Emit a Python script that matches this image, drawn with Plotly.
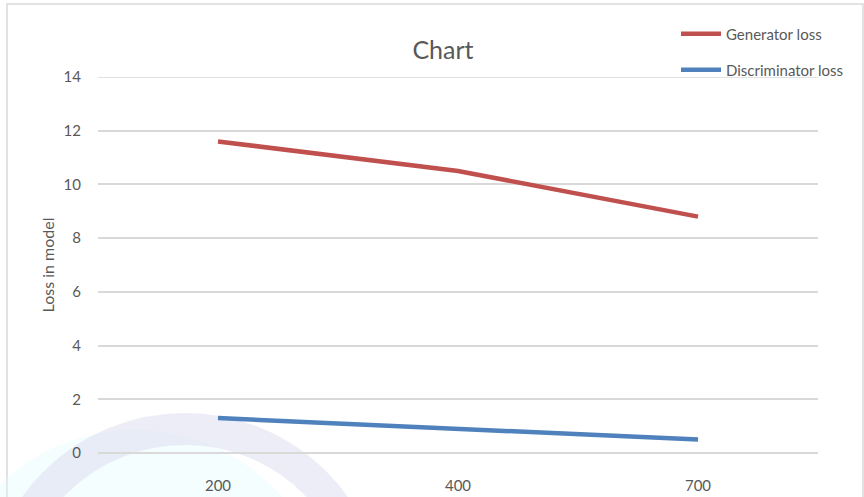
import plotly.graph_objects as go

# Training steps and the losses recorded at each
steps = ["200", "400", "700"]
generator_loss = [11.6, 10.5, 8.8]
discriminator_loss = [1.3, 0.9, 0.5]
y_top = 14

W, H = 864, 497
L, R, T, B = 98, 46, 77, 44
TEXT = "#595959"
GRID = "#d9d9d9"
FONT = "Lato, 'Open Sans', sans-serif"


def px_x(px):
    return (px - L) / (W - L - R)


def px_y(py):
    return (H - B - py) / (H - T - B)


fig = go.Figure()
fig.add_trace(go.Scatter(
    x=steps, y=generator_loss, name="Generator loss", mode="lines",
    line=dict(color="#c0504d", width=4.5), legend="legend",
))
fig.add_trace(go.Scatter(
    x=steps, y=discriminator_loss, name="Discriminator loss", mode="lines",
    line=dict(color="#4f81bd", width=4.5), legend="legend2",
))

shapes = [
    # chart frame
    dict(type="rect", xref="paper", yref="paper",
         x0=px_x(7), x1=px_x(863), y0=px_y(540), y1=px_y(4),
         line=dict(color=GRID, width=1.5), fillcolor="rgba(0,0,0,0)",
         layer="below"),
    # faint background emblem
    dict(type="circle", xref="paper", yref="paper",
         x0=px_x(-60), x1=px_x(330), y0=px_y(820), y1=px_y(430),
         line=dict(width=0), fillcolor="rgba(225,252,253,0.35)", layer="below"),
    dict(type="circle", xref="paper", yref="paper",
         x0=px_x(185 - 184), x1=px_x(185 + 184), y0=px_y(613 + 184), y1=px_y(613 - 184),
         line=dict(color="rgba(215,215,240,0.45)", width=32),
         fillcolor="rgba(0,0,0,0)", layer="below"),
    # top gridline at the axis maximum
    dict(type="line", xref="paper", yref="y", x0=0, x1=1, y0=y_top, y1=y_top,
         line=dict(color=GRID, width=1.5), layer="below"),
]

legend_style = dict(xanchor="left", yanchor="middle", bgcolor="rgba(0,0,0,0)",
                    font=dict(size=15, color=TEXT), itemwidth=40)

fig.update_layout(
    width=W, height=H,
    margin=dict(l=L, r=R, t=T, b=B),
    paper_bgcolor="white", plot_bgcolor="rgba(0,0,0,0)",
    font=dict(family=FONT, color=TEXT, size=14),
    title=dict(text="Chart", x=443 / W, xanchor="center",
               y=1 - 50 / H, yanchor="middle",
               font=dict(size=25, color=TEXT, family=FONT)),
    showlegend=True,
    legend=dict(x=px_x(676), y=px_y(34), **legend_style),
    legend2=dict(x=px_x(676), y=px_y(70), **legend_style),
    xaxis=dict(type="category", range=[-0.5, 2.5], showgrid=False,
               showline=False, zeroline=False, ticks="", automargin=False,
               ticklabelstandoff=22, tickfont=dict(size=15, color=TEXT)),
    yaxis=dict(range=[0, y_top], dtick=2, showgrid=True, gridcolor=GRID,
               gridwidth=1.5, zeroline=True, zerolinecolor=GRID,
               zerolinewidth=1.5, showline=False, ticks="", automargin=False,
               ticklabelstandoff=16, tickfont=dict(size=15, color=TEXT),
               title=dict(text="Loss in model", standoff=4,
                          font=dict(size=16, color=TEXT))),
    shapes=shapes,
)

fig.write_html("out.html")
